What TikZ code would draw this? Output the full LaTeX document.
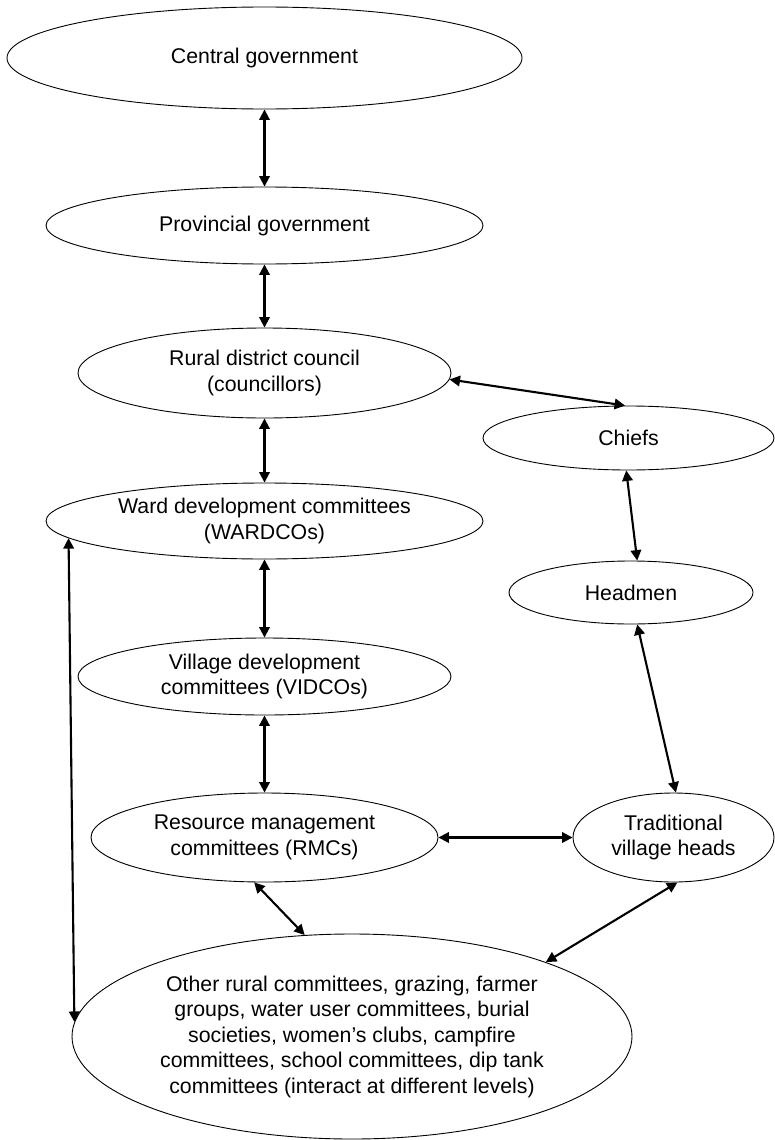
\documentclass[tikz,border=0pt]{standalone}
\usepackage{fontspec}
\setmainfont{Liberation Sans}
\usetikzlibrary{shapes.geometric,arrows.meta}
\begin{document}
\begin{tikzpicture}[x=1pt,y=-1pt,
  org/.style={draw=black,line width=0.9pt,ellipse,inner sep=0pt,align=center,
    font=\fontsize{21.3}{25.5}\selectfont},
  link/.style={line width=2.1pt,
    {Triangle[length=10.5pt,width=10.5pt]}-{Triangle[length=10.5pt,width=10.5pt]}}]
\useasboundingbox (0,0) rectangle (775,1140);

% government column
\node[org,minimum width=515pt,minimum height=102pt] (central) at (264.5,58) {Central government};
\node[org,minimum width=437pt,minimum height=77pt] (prov) at (264.5,225.5) {Provincial government};
\node[org,minimum width=373pt,minimum height=90pt] (rdc) at (264.5,373) {Rural district council\\(councillors)};
\node[org,minimum width=437pt,minimum height=76pt] (ward) at (264.5,521) {Ward development committees\\(WARDCOs)};
\node[org,minimum width=373pt,minimum height=77pt] (vidco) at (264.5,676.5) {Village development\\committees (VIDCOs)};
\node[org,minimum width=347pt,minimum height=89pt] (rmc) at (264.5,837.5) {Resource management\\committees (RMCs)};

% traditional column
\node[org,minimum width=291pt,minimum height=64pt] (chiefs) at (628.5,438) {Chiefs};
\node[org,minimum width=244pt,minimum height=63pt] (headmen) at (631,592.5) {Headmen};
\node[org,minimum width=201pt,minimum height=89pt] (trad) at (673.5,837.5) {Traditional\\village heads};

% local groups
\node[org,minimum width=560pt,minimum height=205pt] (other) at (352,1036.5)
  {Other rural committees, grazing, farmer\\groups, water user committees, burial\\societies, women’s clubs, campfire\\committees, school committees, dip tank\\committees (interact at different levels)};

% links
\draw[link] (central.south) -- (prov.north);
\draw[link] (prov.south) -- (rdc.north);
\draw[link] (rdc.south) -- (ward.north);
\draw[link] (ward.south) -- (vidco.north);
\draw[link] (vidco.south) -- (rmc.north);
\draw[link] (rdc.-2) -- (chiefs.96);
\draw[link] (chiefs.-94) -- (headmen.79.5);
\draw[link] (headmen.-79.5) -- (trad.87);
\draw[link] (rmc.east) -- (trad.west);
\draw[link] (rmc.-103) -- (other.115.6);
\draw[link] (trad.-85.6) -- (other.21.6);
\draw[link] (ward.185) -- (other.177);
\end{tikzpicture}
\end{document}
